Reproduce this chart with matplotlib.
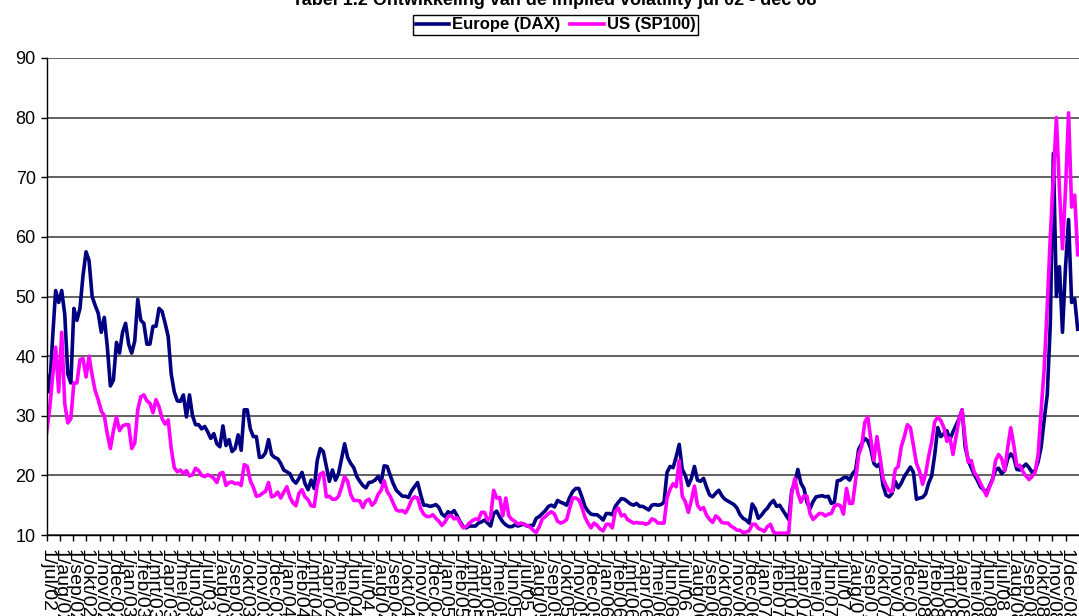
import matplotlib
matplotlib.use("Agg")
import matplotlib.pyplot as plt
import pandas as pd

plt.rcParams['font.family'] = ['Liberation Sans', 'DejaVu Sans']

# weekly readings, 1 jul 2002 - 29 dec 2008
weeks = pd.date_range('2002-07-01', periods=340, freq='7D')

dax = [
    37, 34, 43, 51, 49, 51, 47, 37, 35.5, 48, 46, 48, 53.5, 57.5, 56, 50,
    48.5, 47.2, 44, 46.5, 41.5, 35, 36, 42.3, 40.5, 44, 45.5, 42, 40.5, 42.5,
    49.5, 46, 45.5, 42, 42, 45, 45, 48, 47.5, 45.5, 43.3, 37, 34, 32.5, 32.4,
    33.5, 29.8, 33.5, 30, 28.5, 28.5, 27.8, 28.2, 27.3, 26.2, 27, 25.3, 24.8,
    28.3, 25, 26, 24, 24.5, 26.8, 24.2, 31, 31, 27.8, 26.5, 26.5, 23, 23.1,
    23.8, 26, 23.5, 23, 22.8, 22, 20.9, 20.6, 20.3, 19.2, 18.7, 19.5, 20.5,
    18.6, 17.6, 19.2, 17.8, 22.5, 24.5, 24, 21.5, 19, 20.9, 19.2, 20.3, 22.8,
    25.3, 23, 22, 21.3, 19.8, 19, 18.3, 17.9, 18.8, 18.9, 19.2, 19.8, 18.8,
    21.6, 21.5, 20, 18.6, 17.5, 17, 16.5, 16.5, 16.3, 17.4, 18.1, 18.8, 16.8,
    15, 15, 14.8, 14.9, 15.1, 14.6, 13.5, 13.1, 13.9, 13.6, 14.1, 13.2, 12.2,
    11.4, 11.2, 11.5, 11.5, 11.5, 12, 12.2, 12.5, 12, 11.5, 13.6, 14, 13,
    12.2, 11.7, 11.4, 11.4, 11.7, 11.5, 11.7, 11.8, 11.5, 11.6, 11.6, 12.8,
    13.1, 13.6, 14.1, 14.8, 15, 14.7, 15.8,
    15.5, 15.3, 15, 16.3, 17.3, 17.8, 17.8, 16.4, 14.8, 14, 13.5, 13.4, 13.4,
    13, 12.5, 13.6, 13.6, 13.4, 14.8, 15.5, 16.1, 16, 15.6, 15.2, 15, 15.3,
    14.8, 14.8, 14.5, 14.2, 15, 15.1, 15, 15.1, 15.5, 20.5, 21.5, 21.3, 23.1,
    25.2, 21, 20, 18.3, 19.5, 21.5, 19.2, 19, 19.5, 18, 16.7, 16.4, 17, 17.5,
    16.6, 16, 15.7, 15.4, 15.1, 14.5, 13.4, 12.8, 12.5, 12, 15.2, 14.4, 12.8,
    13.3, 14, 14.5, 15.3, 15.8, 14.8, 15, 14.2, 13.4, 12.6, 17.5, 18.7, 21,
    18.7, 17.8, 15.5, 14.4, 15.6, 16.4, 16.5, 16.6, 16.4, 16.5, 15.3, 15.5,
    19.1, 19.2, 19.6, 19.7, 19.2, 20.3, 20.9, 24.4, 25.3, 26.2, 25.8, 24.4,
    22, 21.5, 22, 18.3, 16.7, 16.4, 17, 19, 17.9, 18.7, 19.8, 20.6, 21.4,
    20.5, 16, 16.2, 16.3, 16.9, 18.7, 19.9, 23.5, 28, 26.5, 27, 27.5, 26,
    27.3, 28.4, 29.5, 31, 24.8, 22.6, 21.3, 20.1, 19.2, 18.1, 17.6, 17.1,
    18.2, 19.4, 20.9, 21.2, 20.3, 20.8, 22.8, 23.6, 23, 21, 20.9, 21.4, 21.9,
    21.3, 20.5, 20.8, 22.3, 24.8, 29.4, 33.6, 45.5, 74, 50, 55, 44, 55, 62.9,
    49, 49.6, 44.5,
]

sp100 = [
    27, 31, 36.5, 41.5, 34, 44, 32, 28.8, 29.5, 35.5, 35.5, 39.4, 39.6, 36.5,
    40, 36.8, 34.2, 32.7, 30.8, 30, 26.9, 24.5, 27.5, 29.8, 27.5, 28.3, 28.5,
    28.5, 24.5, 25.4, 31, 33.2, 33.5, 32.5, 32.1, 30.5, 32.7, 31.5, 29.5,
    28.6, 29.3, 24.5, 21.3, 20.6, 20.9, 20.3, 20.8, 19.9, 20.1, 21.2, 20.8,
    20, 19.8, 20.1, 19.9, 19.5, 18.8, 20.3, 20.5, 18.3, 18.8, 18.9, 18.6,
    18.7, 18.3, 21.8, 21.5, 19.1, 18, 16.5, 16.6, 17, 17.3, 18.8, 16.4, 16.6,
    17.2, 16.2, 17.2, 18.1, 16.4, 15.4, 14.9, 17, 17.6, 16.4, 15.9, 14.9,
    14.8, 18.3, 20.2, 20.5, 16.4, 16.5, 16, 16, 16.5, 18, 19.8, 19, 16.8,
    15.8, 15.8, 15.7, 14.6, 15.7, 16, 15, 15.5, 16.8, 17.5, 19.1, 17.3, 16.5,
    15.3, 14.2, 14, 14.1, 13.7, 14.6, 15.9, 16.4, 16.2, 14.4, 13.5, 13.1,
    13.1, 13.4, 12.8, 12.3, 11.6, 12.2, 13.1, 13.3, 12.7, 12.9, 12, 11.2,
    11.4, 12, 12.4, 12.7, 12.6, 13.8, 13.8, 12.5, 13, 17.5, 16.2, 16.3, 13.2,
    16.2, 13.2, 12.6, 12.3, 11.8, 12, 11.8, 11.6, 11.3, 10.8, 10.4, 11.4,
    12.7, 13.1, 13.6, 13.9, 13.5, 12.3,
    12, 12.2, 12.6, 14.5, 16.2, 16.2, 15.9, 14.7, 13, 12, 11.2, 12, 11.6, 11,
    10.7, 11.8, 11.8, 11.2, 14, 14.5, 13.2, 13.4, 12.6, 12.3, 12, 12.1, 12,
    12, 11.8, 12, 12.7, 12.5, 12, 12, 12, 16.2, 17.7, 18.6, 18.1, 22.5, 16.5,
    15.6, 13.8, 15.8, 18.2, 15, 14.3, 14.6, 13.3, 12.6, 12.1, 13.2, 12.8,
    12.1, 12, 12, 11.5, 11.2, 10.8, 10.8, 10.4, 10.5, 10.7, 11.8, 11.8, 11.1,
    10.9, 10.6, 11.4, 11.8, 10.5, 10.3, 10.3, 10.3, 10.3, 10.4, 17, 19.5, 17,
    15.5, 16.6, 16.5, 13.6, 12.6, 13.1, 13.6, 13.6, 13.2, 13.5, 13.6, 14.8,
    15.1, 14.9, 13.5, 17.8, 15.3, 15.3, 19.2, 23.5, 24.9, 28.9, 29.8, 26,
    22.5, 26.5, 23.1, 19.5, 18.3, 17.4, 17.3, 21, 21.5, 24.8, 26.5, 28.5, 28,
    25, 22, 20.7, 18.5, 20.2, 23.2, 25.6, 29, 29.8, 29.2, 28, 25.7, 26.3,
    23.5, 26.5, 29.4, 31, 26, 22.2, 22.5, 20.5, 19.8, 18.7, 17.7, 16.6, 18,
    19.2, 22.5, 23.5, 22.8, 20.8, 24.7, 28, 25, 21.6, 21.7, 20.6, 19.9, 19.3,
    19.8, 20.5, 23.5, 31, 38, 48.5, 60, 70, 80, 68, 58, 68, 80.8, 65, 67, 57,
]

nl_months = ['jan', 'feb', 'mrt', 'apr', 'mei', 'jun',
             'jul', 'aug', 'sep', 'okt', 'nov', 'dec']
month_starts = pd.date_range('2002-07-01', '2008-12-01', freq='MS')
month_labels = [f'1/{nl_months[d.month - 1]}/{d.year % 100:02d}' for d in month_starts]

title = 'Tabel 1.2 Ontwikkeling van de implied volatility jul 02 - dec 08'

fig = plt.figure(figsize=(10.79, 6.16), dpi=100)
ax = fig.add_axes([46.5 / 1079, 81 / 616, 1 - 46.5 / 1079, 477 / 616])

ax.plot(weeks, dax, color='#000080', lw=2.6, label='Europe (DAX)')
ax.plot(weeks, sp100, color='#FF00FF', lw=2.6, label='US (SP100)')

ax.set_ylim(10, 90)
ax.set_yticks(range(10, 91, 10))
ax.set_xlim(pd.Timestamp('2002-07-01'), pd.Timestamp('2009-01-01'))
ax.set_xticks(month_starts)
ax.set_xticklabels(month_labels, rotation=-90, fontsize=14)

ax.yaxis.grid(True, color='#555555', lw=1.3)
ax.set_axisbelow(True)
for s in ['top', 'right']:
    ax.spines[s].set_visible(False)
for s in ['left', 'bottom']:
    ax.spines[s].set_color('black')
    ax.spines[s].set_linewidth(1.0)

ax.tick_params(axis='y', direction='out', length=4.3, width=1, labelsize=13, pad=3.5)
ax.tick_params(axis='x', direction='out', length=4.3, width=1, pad=5.5)

fig.text(0.514, 1 - 5 / 616, title, ha='center', va='baseline',
         fontsize=13, fontweight='bold')

leg = fig.legend(loc='upper center', bbox_to_anchor=(0.515, 1 - 15 / 616), ncol=2,
                 frameon=True, fancybox=False, edgecolor='black', framealpha=1,
                 prop={'size': 12, 'weight': 'bold'}, handlelength=2.0,
                 handletextpad=0.2, columnspacing=0.6, borderpad=0.15,
                 borderaxespad=0)
leg.get_frame().set_linewidth(1.0)

fig.savefig('out.png', dpi=100)
